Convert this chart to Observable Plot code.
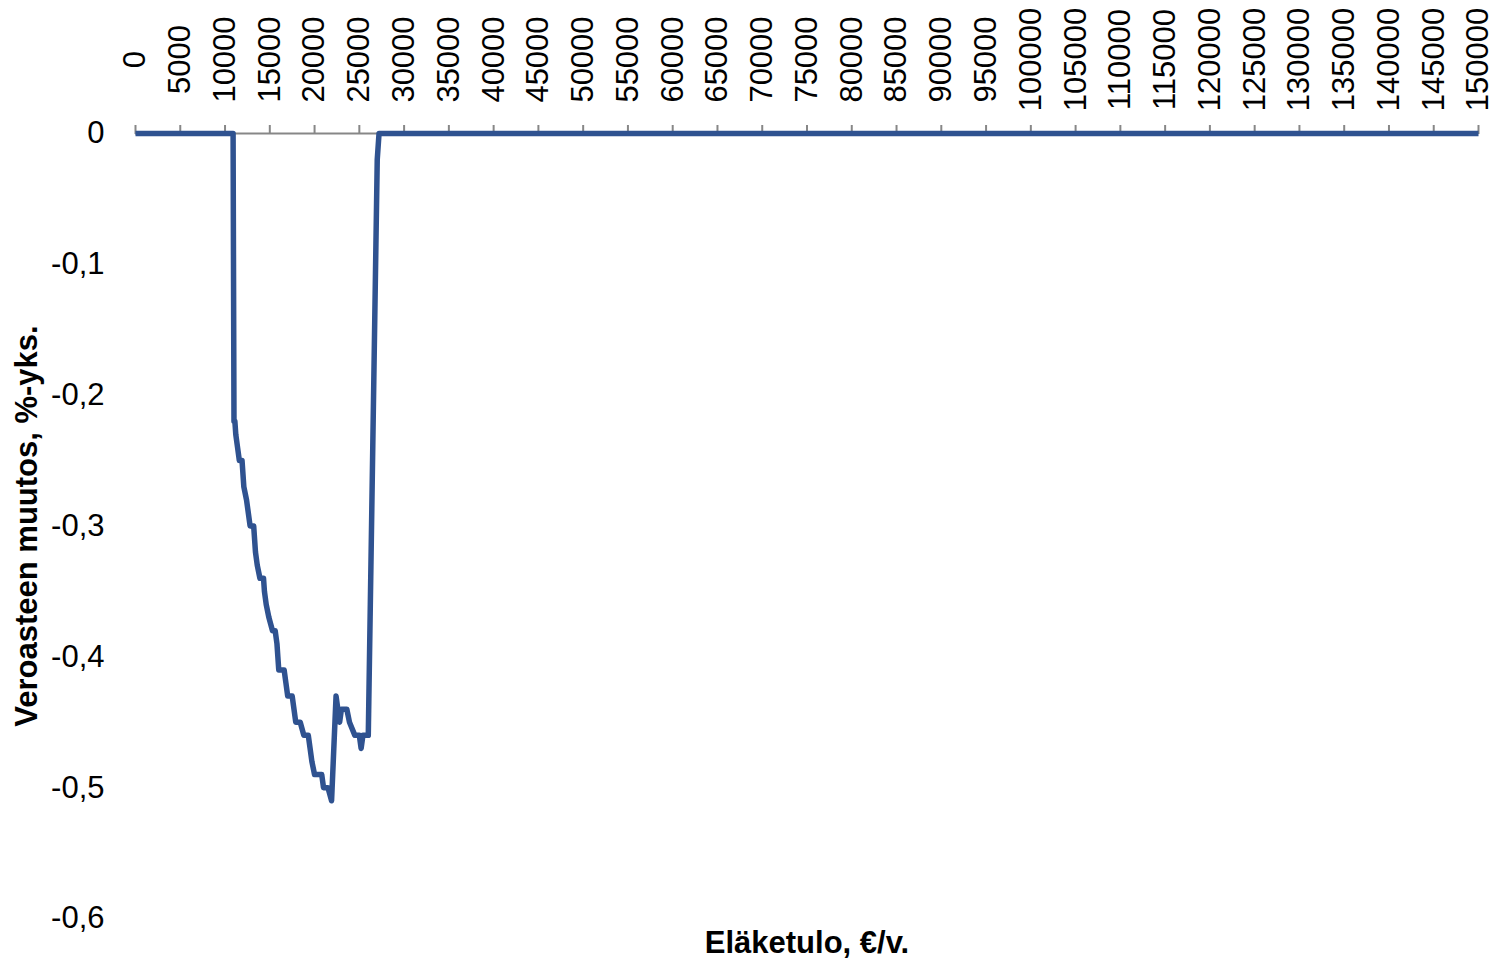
<!DOCTYPE html>
<html>
<head>
<meta charset="utf-8">
<script src="https://cdn.jsdelivr.net/npm/d3@7"></script>
<script src="https://cdn.jsdelivr.net/npm/@observablehq/plot@0.6"></script>
<style>
  html, body { margin: 0; padding: 0; background: #ffffff; }
  #chart svg { display: block; font-family: "Liberation Sans", Arial, sans-serif; }
</style>
</head>
<body>
<div id="chart"></div>
<script>
// Pension income (€/year) at break points of the curve
const incomes = [0, 10900, 11000, 11100, 11200, 11400, 11600, 11900, 12100, 12400, 12800, 13200, 13400, 13600, 13900, 14300, 14400, 14600, 14900, 15300, 15600, 15800, 15900, 16000, 16600, 16800, 17000, 17500, 17700, 17900, 18400, 18800, 19300, 19500, 19700, 20000, 20800, 21000, 21500, 21900, 22400, 22800, 23000, 23600, 23900, 24500, 25000, 25200, 25400, 26000, 27000, 27200, 150000];
// Change in tax rate, percentage points
const changes = [0, 0, -0.22, -0.22, -0.23, -0.24, -0.25, -0.25, -0.27, -0.28, -0.30, -0.30, -0.32, -0.33, -0.34, -0.34, -0.35, -0.36, -0.37, -0.38, -0.38, -0.39, -0.40, -0.41, -0.41, -0.42, -0.43, -0.43, -0.44, -0.45, -0.45, -0.46, -0.46, -0.47, -0.48, -0.49, -0.49, -0.50, -0.50, -0.51, -0.43, -0.45, -0.44, -0.44, -0.45, -0.46, -0.46, -0.47, -0.46, -0.46, -0.02, 0, 0];

const xTicks = [0, 5000, 10000, 15000, 20000, 25000, 30000, 35000, 40000, 45000, 50000, 55000, 60000, 65000, 70000, 75000, 80000, 85000, 90000, 95000, 100000, 105000, 110000, 115000, 120000, 125000, 130000, 135000, 140000, 145000, 150000];
const yTicks = [0, -0.1, -0.2, -0.3, -0.4, -0.5, -0.6];
const xTitle = "Eläketulo, €/v.";
const yTitle = "Veroasteen muutos, %-yks.";

const data = incomes.map((x, i) => ({income: x, change: changes[i]}));

const chart = Plot.plot({
  width: 1496,
  height: 960,
  marginLeft: 135,
  marginRight: 18,
  marginTop: 133,
  marginBottom: 42,
  style: {fontFamily: '"Liberation Sans", Arial, sans-serif', background: "#ffffff", color: "#000000"},
  x: {type: "linear", domain: [0, 150000]},
  y: {type: "linear", domain: [-0.6, 0]},
  marks: [
    Plot.ruleY([0], {stroke: "#878787", strokeWidth: 2}),
    Plot.axisX(xTicks, {anchor: "top", tickSize: 9, stroke: "#878787", strokeWidth: 2, tickFormat: () => "", label: null}),
    Plot.text(xTicks, {x: d => d, frameAnchor: "top", dy: -74, rotate: -90, text: d => String(d), fontSize: 31, fill: "#000000", textAnchor: "middle", lineAnchor: "middle"}),
    Plot.axisY(yTicks, {anchor: "left", tickSize: 0, tickPadding: 31, fontSize: 31, fill: "#000000", tickFormat: d => String(d).replace(".", ","), label: null}),
    Plot.line(data, {x: "income", y: "change", stroke: "#2f5290", strokeWidth: 5.5, strokeLinejoin: "round", strokeLinecap: "butt"}),
    Plot.text([yTitle], {frameAnchor: "left", dx: -108, rotate: -90, text: d => d, fontSize: 31, fontWeight: "bold", fill: "#000000", textAnchor: "middle", lineAnchor: "middle"}),
    Plot.text([xTitle], {frameAnchor: "bottom", dy: 25, text: d => d, fontSize: 31, fontWeight: "bold", fill: "#000000", textAnchor: "middle", lineAnchor: "middle"})
  ]
});
document.getElementById("chart").appendChild(chart);
</script>
</body>
</html>
